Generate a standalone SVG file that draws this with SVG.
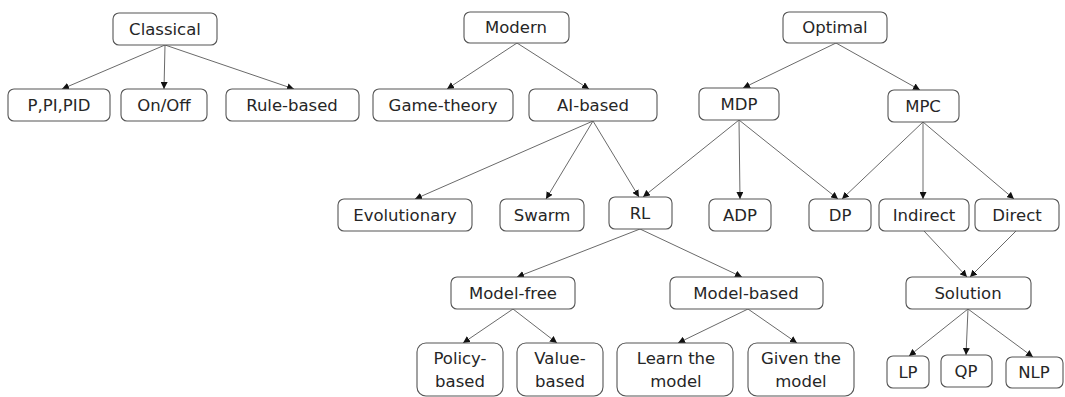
<svg xmlns="http://www.w3.org/2000/svg" width="1065" height="397" viewBox="0 0 1065 397">
  <defs>
    <style>
      .box { fill: #ffffff; stroke: #555555; stroke-width: 1.1; }
      .lbl { font-family: "DejaVu Sans", "Open Sans", sans-serif; font-size: 16.5px; fill: #262626; text-anchor: middle; }
      .edge { stroke: #6a6a6a; stroke-width: 1; fill: none; marker-end: url(#head); }
    </style>
    <marker id="head" viewBox="0 0 10 10" refX="10" refY="5" markerWidth="7" markerHeight="7" markerUnits="userSpaceOnUse" orient="auto">
      <path d="M0,0 L10,5 L0,10 z" fill="#111111"/>
    </marker>
  </defs>
  <rect width="1065" height="397" fill="#ffffff"/>

  <g id="connectors">
    <!-- Classical -->
    <line class="edge" x1="165" y1="45" x2="62" y2="89"/>
    <line class="edge" x1="165" y1="45" x2="164" y2="89"/>
    <line class="edge" x1="165" y1="45" x2="294" y2="89"/>
    <!-- Modern -->
    <line class="edge" x1="517" y1="43" x2="447" y2="89"/>
    <line class="edge" x1="517" y1="43" x2="589" y2="89"/>
    <!-- Optimal -->
    <line class="edge" x1="836" y1="43" x2="743" y2="88"/>
    <line class="edge" x1="836" y1="43" x2="920" y2="90"/>
    <!-- AI-based -->
    <line class="edge" x1="593" y1="121" x2="415" y2="199"/>
    <line class="edge" x1="593" y1="121" x2="546" y2="199"/>
    <line class="edge" x1="593" y1="121" x2="639" y2="197"/>
    <!-- MDP -->
    <line class="edge" x1="739" y1="120" x2="643" y2="197"/>
    <line class="edge" x1="739" y1="120" x2="740" y2="199"/>
    <line class="edge" x1="739" y1="120" x2="838" y2="199"/>
    <!-- MPC -->
    <line class="edge" x1="923" y1="122" x2="842" y2="199"/>
    <line class="edge" x1="923" y1="122" x2="923" y2="199"/>
    <line class="edge" x1="923" y1="122" x2="1014" y2="199"/>
    <!-- Indirect / Direct to Solution -->
    <line class="edge" x1="924" y1="231" x2="967" y2="277"/>
    <line class="edge" x1="1016" y1="231" x2="970" y2="277"/>
    <!-- RL -->
    <line class="edge" x1="640" y1="229" x2="517" y2="277"/>
    <line class="edge" x1="640" y1="229" x2="742" y2="277"/>
    <!-- Model-free / Model-based -->
    <line class="edge" x1="513" y1="309" x2="463" y2="343"/>
    <line class="edge" x1="513" y1="309" x2="557" y2="343"/>
    <line class="edge" x1="748" y1="309" x2="678" y2="343"/>
    <line class="edge" x1="748" y1="309" x2="797" y2="343"/>
    <!-- Solution -->
    <line class="edge" x1="968" y1="309" x2="909" y2="356"/>
    <line class="edge" x1="968" y1="309" x2="966" y2="355"/>
    <line class="edge" x1="968" y1="309" x2="1033" y2="357"/>
  </g>

  <g id="classical"><rect class="box" x="113" y="13" width="104" height="32" rx="6"/><text class="lbl" x="165" y="35">Classical</text></g>
  <g id="pid"><rect class="box" x="8" y="89" width="102" height="32" rx="6"/><text class="lbl" x="59" y="111">P,PI,PID</text></g>
  <g id="onoff"><rect class="box" x="121" y="89" width="86" height="32" rx="6"/><text class="lbl" x="164" y="111">On/Off</text></g>
  <g id="rulebased"><rect class="box" x="226" y="89" width="133" height="32" rx="6"/><text class="lbl" x="292" y="111">Rule-based</text></g>

  <g id="modern"><rect class="box" x="464" y="12" width="105" height="31" rx="6"/><text class="lbl" x="516" y="33">Modern</text></g>
  <g id="gametheory"><rect class="box" x="373" y="89" width="140" height="32" rx="6"/><text class="lbl" x="443" y="111">Game-theory</text></g>
  <g id="aibased"><rect class="box" x="529" y="89" width="128" height="32" rx="6"/><text class="lbl" x="593" y="111">AI-based</text></g>

  <g id="optimal"><rect class="box" x="783" y="12" width="104" height="31" rx="6"/><text class="lbl" x="835" y="33">Optimal</text></g>
  <g id="mdp"><rect class="box" x="699" y="88" width="80" height="32" rx="6"/><text class="lbl" x="739" y="110">MDP</text></g>
  <g id="mpc"><rect class="box" x="888" y="90" width="71" height="32" rx="6"/><text class="lbl" x="923" y="112">MPC</text></g>

  <g id="evolutionary"><rect class="box" x="338" y="199" width="134" height="32" rx="6"/><text class="lbl" x="405" y="221">Evolutionary</text></g>
  <g id="swarm"><rect class="box" x="500" y="199" width="84" height="32" rx="6"/><text class="lbl" x="542" y="221">Swarm</text></g>
  <g id="rl"><rect class="box" x="609" y="197" width="63" height="32" rx="6"/><text class="lbl" x="640" y="219">RL</text></g>
  <g id="adp"><rect class="box" x="709" y="199" width="62" height="32" rx="6"/><text class="lbl" x="740" y="221">ADP</text></g>
  <g id="dp"><rect class="box" x="809" y="199" width="62" height="32" rx="6"/><text class="lbl" x="840" y="221">DP</text></g>
  <g id="indirect"><rect class="box" x="879" y="199" width="90" height="32" rx="6"/><text class="lbl" x="924" y="221">Indirect</text></g>
  <g id="direct"><rect class="box" x="975" y="199" width="84" height="32" rx="6"/><text class="lbl" x="1017" y="221">Direct</text></g>

  <g id="modelfree"><rect class="box" x="451" y="277" width="124" height="32" rx="6"/><text class="lbl" x="513" y="299">Model-free</text></g>
  <g id="modelbased"><rect class="box" x="670" y="277" width="153" height="32" rx="6"/><text class="lbl" x="746" y="299">Model-based</text></g>
  <g id="solution"><rect class="box" x="906" y="277" width="125" height="32" rx="6"/><text class="lbl" x="968" y="299">Solution</text></g>

  <g id="policybased"><rect class="box" x="417" y="343" width="86" height="53" rx="9"/><text class="lbl" x="460" y="364">Policy-</text><text class="lbl" x="460" y="387">based</text></g>
  <g id="valuebased"><rect class="box" x="517" y="343" width="86" height="53" rx="9"/><text class="lbl" x="560" y="364">Value-</text><text class="lbl" x="560" y="387">based</text></g>
  <g id="learnmodel"><rect class="box" x="617" y="343" width="116" height="53" rx="9"/><text class="lbl" x="676" y="364">Learn the</text><text class="lbl" x="676" y="387">model</text></g>
  <g id="givenmodel"><rect class="box" x="748" y="343" width="106" height="53" rx="9"/><text class="lbl" x="801" y="364">Given the</text><text class="lbl" x="801" y="387">model</text></g>

  <g id="lp"><rect class="box" x="887" y="356" width="42" height="32" rx="6"/><text class="lbl" x="908" y="378">LP</text></g>
  <g id="qp"><rect class="box" x="941" y="355" width="51" height="32" rx="6"/><text class="lbl" x="966" y="377">QP</text></g>
  <g id="nlp"><rect class="box" x="1006" y="357" width="57" height="31" rx="6"/><text class="lbl" x="1034" y="378">NLP</text></g>
</svg>
